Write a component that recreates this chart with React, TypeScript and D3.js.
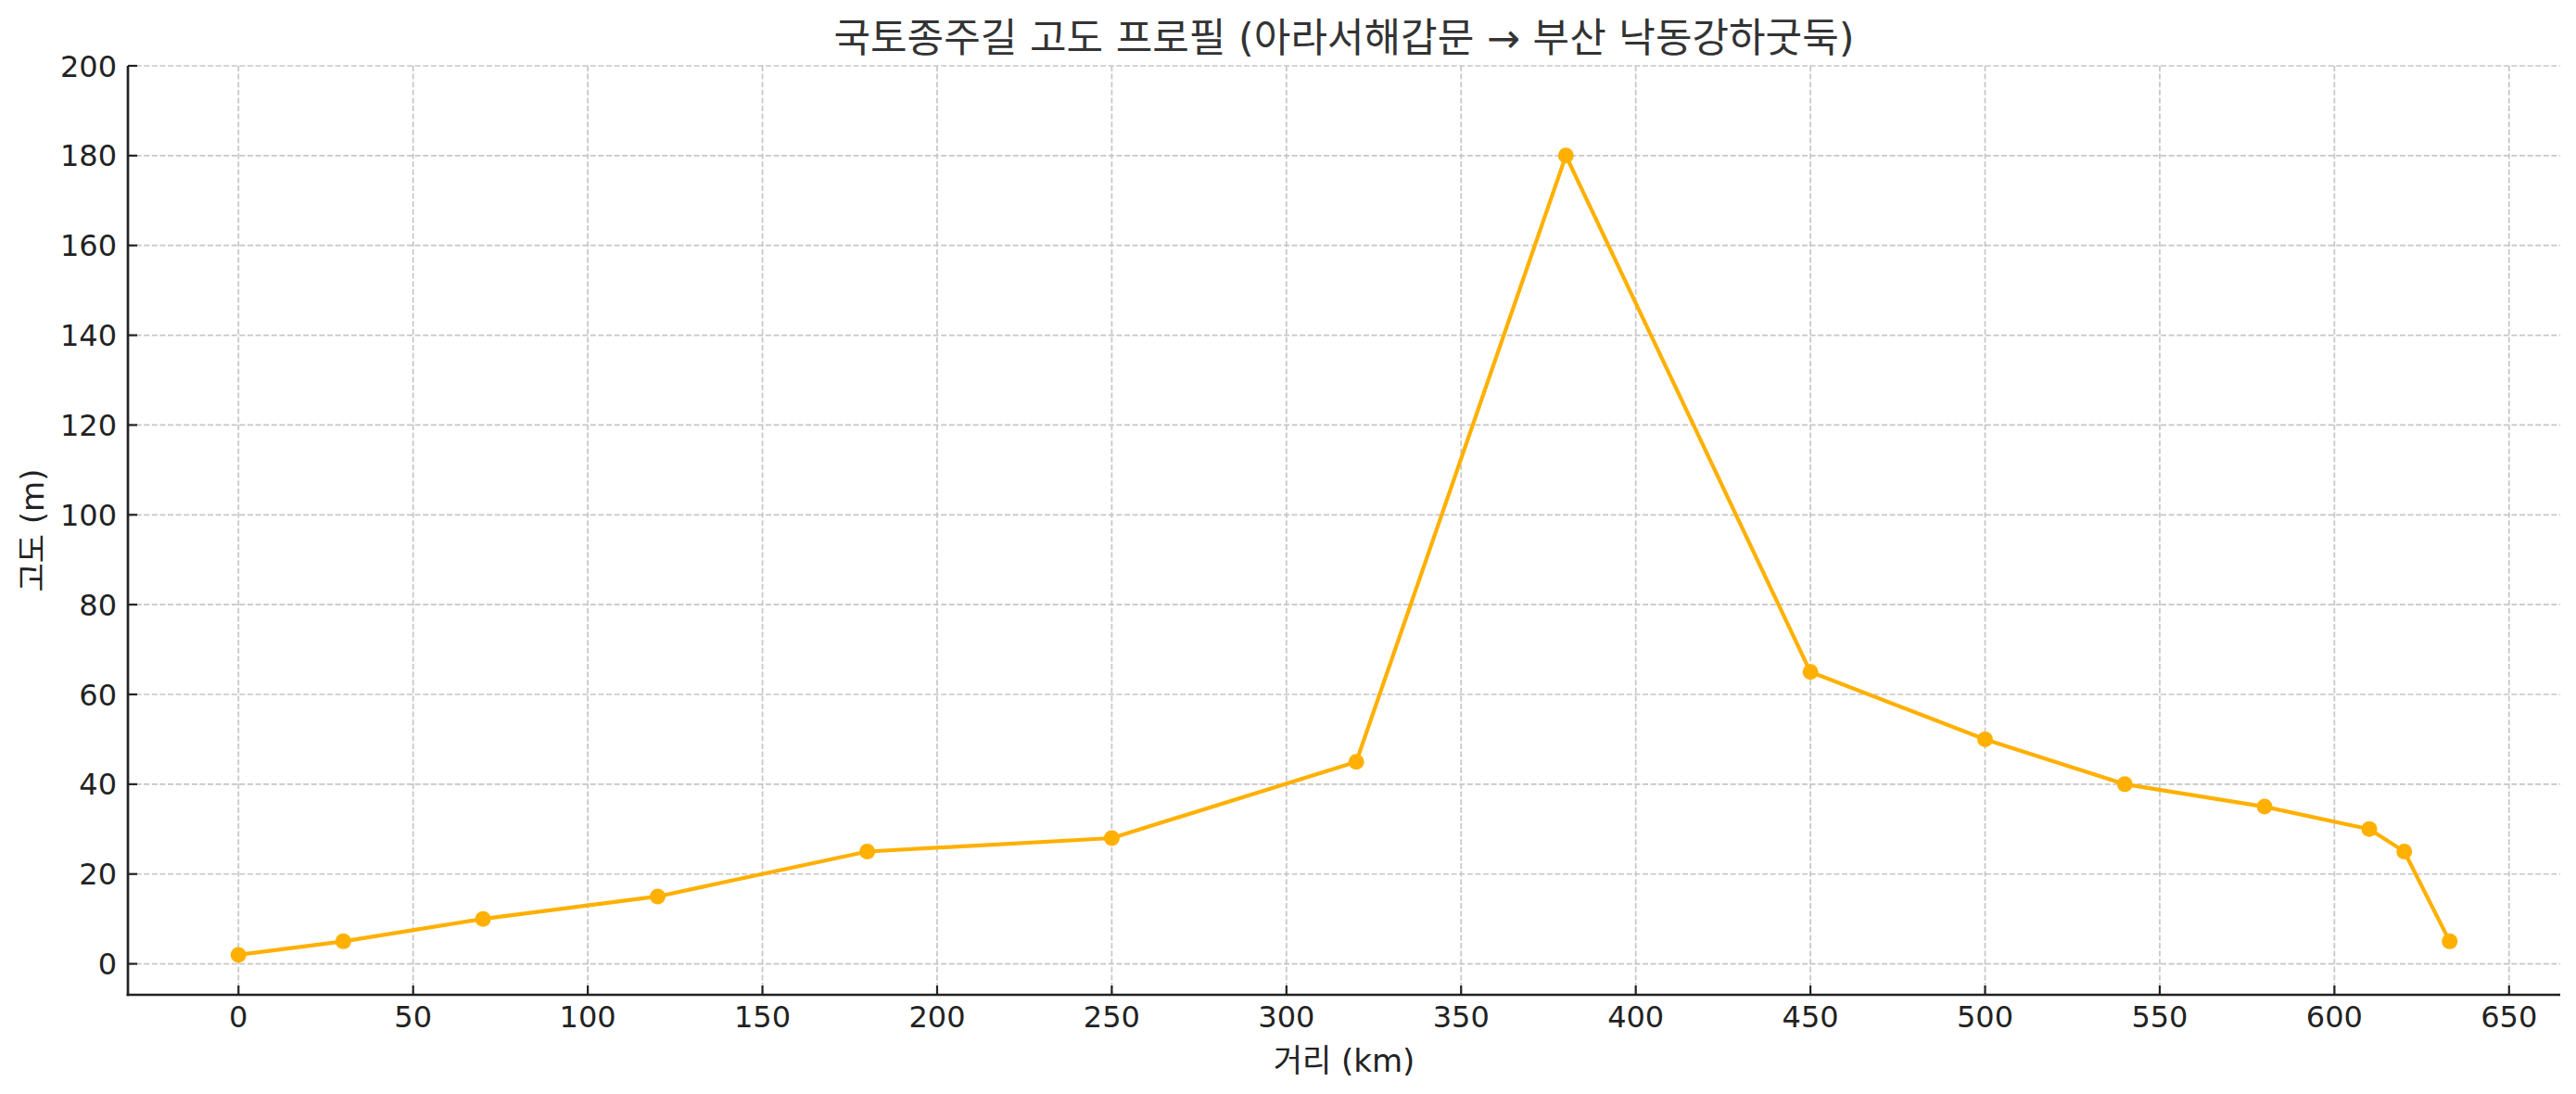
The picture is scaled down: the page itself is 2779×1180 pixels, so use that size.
import React from "react";
import * as d3 from "d3";

const distanceKm = [0, 30, 70, 120, 180, 250, 320, 380, 450, 500, 540, 580, 610, 620, 633];
const elevationM = [2, 5, 10, 15, 25, 28, 45, 180, 65, 50, 40, 35, 30, 25, 5];
const xTicks = [0, 50, 100, 150, 200, 250, 300, 350, 400, 450, 500, 550, 600, 650];
const yTicks = [0, 20, 40, 60, 80, 100, 120, 140, 160, 180, 200];

const titleText = "국토종주길 고도 프로필 (아라서해갑문 → 부산 낙동강하굿둑)";
const xLabel = "거리 (km)";
const yLabel = "고도 (m)";

const W = 2779;
const H = 1180;
const left = 138;
const right = 2762;
const top = 71;
const bottom = 1073;
const FONT = "'DejaVu Sans', 'Noto Sans CJK KR', sans-serif";

export default function App() {
  const x = d3.scaleLinear().domain([-31.65, 664.65]).range([left, right]);
  const y = d3.scaleLinear().domain([-6.9, 200]).range([bottom, top]);
  const pts = distanceKm.map((d, i) => [d, elevationM[i]] as [number, number]);
  const line = d3
    .line<[number, number]>()
    .x((d) => x(d[0]))
    .y((d) => y(d[1]));
  const color = "#FFB000";
  const gridColor = "#c6c6c6";

  return (
    <svg
      width={W}
      height={H}
      style={{ position: "absolute", left: 0, top: 0, display: "block", background: "#fff" }}
      fontFamily={FONT}
    >
      <rect x={0} y={0} width={W} height={H} fill="#fff" />
      {xTicks.map((t) => (
        <line
          key={"gx" + t}
          x1={x(t)}
          x2={x(t)}
          y1={top}
          y2={bottom}
          stroke={gridColor}
          strokeWidth={1.7}
          strokeDasharray="6,2.6"
        />
      ))}
      {yTicks.map((t) => (
        <line
          key={"gy" + t}
          x1={left}
          x2={right}
          y1={y(t)}
          y2={y(t)}
          stroke={gridColor}
          strokeWidth={1.7}
          strokeDasharray="6,2.6"
        />
      ))}
      <path d={line(pts) || ""} fill="none" stroke={color} strokeWidth={4.2} strokeLinejoin="round" />
      {pts.map((p, i) => (
        <circle key={"p" + i} cx={x(p[0])} cy={y(p[1])} r={8.5} fill={color} />
      ))}
      <line x1={left} x2={left} y1={top} y2={bottom + 1.35} stroke="#222" strokeWidth={2.7} />
      <line x1={left - 1.35} x2={right} y1={bottom} y2={bottom} stroke="#222" strokeWidth={2.7} />
      {xTicks.map((t) => (
        <g key={"tx" + t}>
          <line x1={x(t)} x2={x(t)} y1={bottom} y2={bottom - 10} stroke="#222" strokeWidth={2.2} />
          <text x={x(t)} y={1108} textAnchor="middle" fontSize={32} fill="#222">
            {t}
          </text>
        </g>
      ))}
      {yTicks.map((t) => (
        <g key={"ty" + t}>
          <line x1={left} x2={left + 10} y1={y(t)} y2={y(t)} stroke="#222" strokeWidth={2.2} />
          <text x={126} y={y(t) + 11.5} textAnchor="end" fontSize={32} fill="#222">
            {t}
          </text>
        </g>
      ))}
      <text x={(left + right) / 2} y={1156} textAnchor="middle" fontSize={34} fill="#222">
        {xLabel}
      </text>
      <text
        transform={`translate(47, ${(top + bottom) / 2}) rotate(-90)`}
        textAnchor="middle"
        fontSize={34}
        fill="#222"
      >
        {yLabel}
      </text>
      <text x={(left + right) / 2} y={56} textAnchor="middle" fontSize={43} fill="#333">
        {titleText}
      </text>
    </svg>
  );
}
